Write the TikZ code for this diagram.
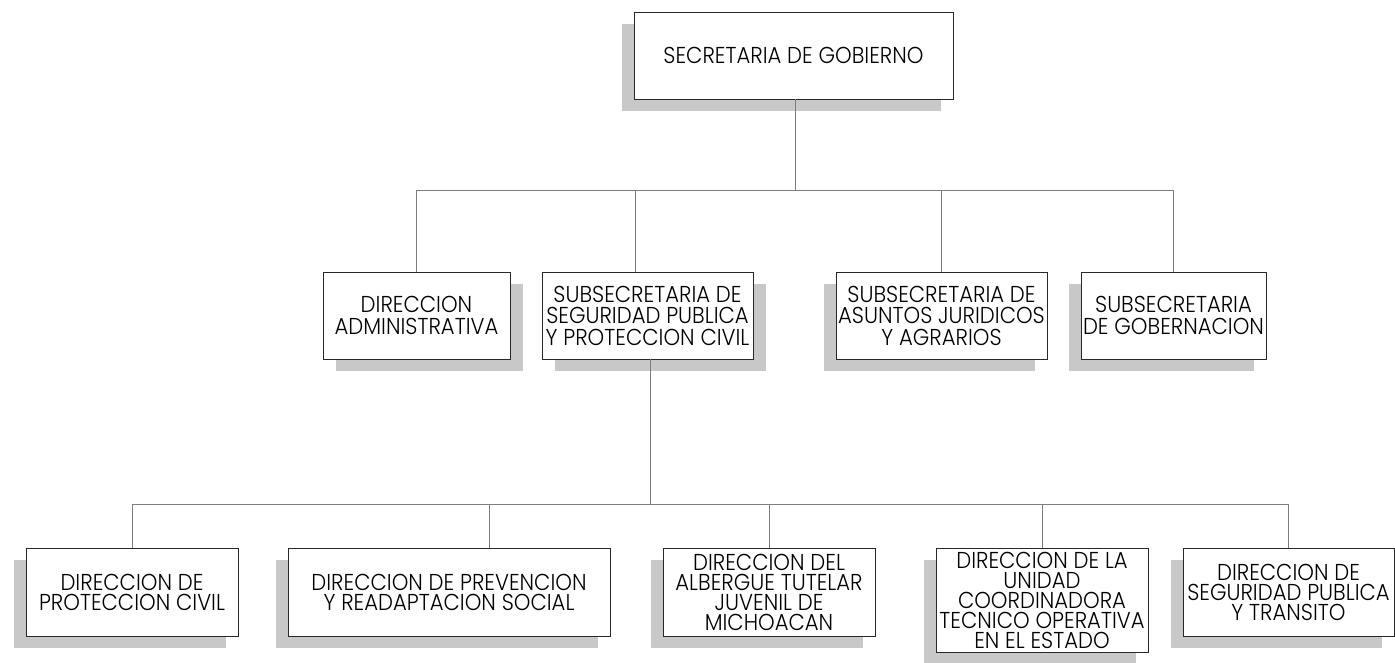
\documentclass[tikz,border=0pt]{standalone}
\usepackage{fontspec}
\setmainfont{Poppins Light}[FakeStretch=0.92]
\usetikzlibrary{shadows,calc}
\definecolor{shadowgray}{RGB}{200,200,200}
\definecolor{linegray}{RGB}{125,125,125}
\definecolor{boxline}{RGB}{40,40,40}
\tikzset{
  unit/.style={draw=boxline, line width=1pt, fill=white, align=center,
    inner sep=0pt, outer sep=0pt,
    font=\fontsize{23}{21.5}\selectfont},
  lowrow/.style={font=\fontsize{23}{20}\selectfont},
  shl/.style={drop shadow={shadow xshift=-12pt, shadow yshift=-12pt, fill=shadowgray, opacity=1}},
  shr/.style={drop shadow={shadow xshift=13pt, shadow yshift=-12pt, fill=shadowgray, opacity=1}},
  conn/.style={draw=linegray, line width=1pt},
}
\begin{document}
\begin{tikzpicture}[x=1pt,y=-1pt]
\useasboundingbox (0,0) rectangle (1395,662);
% top
\node[unit,shl,minimum width=319pt,minimum height=87pt] (top) at (793.5,55.5) {SECRETARIA DE GOBIERNO};
% row 2
\node[unit,shr,minimum width=187pt,minimum height=87pt] (r2a) at (416.5,315.5) {DIRECCION\\ADMINISTRATIVA};
\node[unit,shr,minimum width=211pt,minimum height=87pt] (r2b) at (647.5,315.5) {SUBSECRETARIA DE\\SEGURIDAD PUBLICA\\Y PROTECCION CIVIL};
\node[unit,shl,minimum width=211pt,minimum height=87pt] (r2c) at (941.5,315.5) {SUBSECRETARIA DE\\ASUNTOS JURIDICOS\\Y AGRARIOS};
\node[unit,shl,minimum width=185pt,minimum height=87pt] (r2d) at (1173.5,315.5) {SUBSECRETARIA\\DE GOBERNACION};
% row 3
\node[unit,lowrow,shl,minimum width=212pt,minimum height=88pt] (r3a) at (132,592) {DIRECCION DE\\PROTECCION CIVIL};
\node[unit,lowrow,shl,minimum width=322pt,minimum height=88pt] (r3b) at (449,592) {DIRECCION DE PREVENCION\\Y READAPTACION SOCIAL};
\node[unit,lowrow,shl,minimum width=212pt,minimum height=88pt] (r3c) at (769,592) {DIRECCION DEL\\ALBERGUE TUTELAR\\JUVENIL DE\\MICHOACAN};
\node[unit,lowrow,shl,minimum width=212pt,minimum height=104pt] (r3d) at (1042,600) {DIRECCION DE LA\\UNIDAD\\COORDINADORA\\TECNICO OPERATIVA\\EN EL ESTADO};
\node[unit,lowrow,shl,minimum width=211pt,minimum height=88pt] (r3e) at (1288.5,592) {DIRECCION DE\\SEGURIDAD PUBLICA\\Y TRANSITO};
% buses
\coordinate (bus1) at (795,190);
\coordinate (bus2) at (650,504);
\coordinate (d2b) at ([xshift=-12.5pt]r2b.north);
\coordinate (d3b) at ([xshift=40pt]r3b.north);
\coordinate (u2b) at ([xshift=2.5pt]r2b.south);
\draw[conn] ([xshift=1.5pt]top.south) -- (bus1);
\draw[conn] (r2a.north) -- (r2a.north |- bus1) -- (r2d.north |- bus1) -- (r2d.north);
\draw[conn] (d2b) -- (d2b |- bus1);
\draw[conn] (r2c.north) -- (r2c.north |- bus1);
\draw[conn] (u2b) -- (u2b |- bus2);
\draw[conn] (r3a.north) -- (r3a.north |- bus2) -- (r3e.north |- bus2) -- (r3e.north);
\draw[conn] (d3b) -- (d3b |- bus2);
\draw[conn] (r3c.north) -- (r3c.north |- bus2);
\draw[conn] (r3d.north) -- (r3d.north |- bus2);
\end{tikzpicture}
\end{document}
